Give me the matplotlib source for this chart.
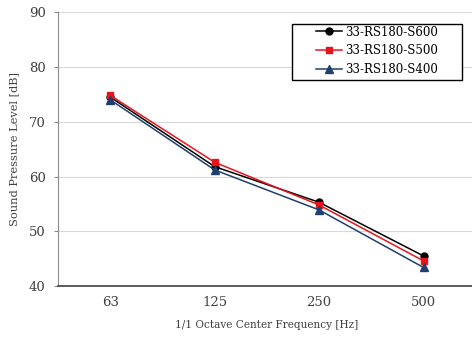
import matplotlib
matplotlib.use("Agg")
import matplotlib.pyplot as plt
from matplotlib.patches import Rectangle

categories = ["63", "125", "250", "500"]
s600 = [74.5, 61.8, 55.3, 45.5]
s500 = [74.8, 62.6, 54.8, 44.6]
s400 = [74.0, 61.2, 53.9, 43.4]
series_names = ["33-RS180-S600", "33-RS180-S500", "33-RS180-S400"]

plt.rcParams['font.family'] = ['DejaVu Serif']

W, H = 472, 337
fig = plt.figure(figsize=(W / 100, H / 100), dpi=100)
ax = fig.add_axes([0.123, 0.151, 0.885, 0.813])

x = list(range(len(categories)))
ax.plot(x, s600, color='black', marker='o', markersize=5, linewidth=1.1, label=series_names[0], zorder=3)
ax.plot(x, s500, color='#e8141c', marker='s', markersize=5, linewidth=1.1, label=series_names[1], zorder=3)
ax.plot(x, s400, color='#1f3f6e', marker='^', markersize=5.5, linewidth=1.1, label=series_names[2], zorder=3)

ax.set_xlim(-0.5, 3.5)
ax.set_ylim(40, 90)
ax.set_yticks([40, 50, 60, 70, 80, 90])
ax.set_xticks(x)
ax.set_xticklabels(categories)
ax.grid(axis='y', color='#d9d9d9', linewidth=0.8)
ax.set_axisbelow(True)

for s in ['top', 'right']:
    ax.spines[s].set_visible(False)
ax.spines['left'].set_color('#8c8c8c')
ax.spines['bottom'].set_color('#404040')
ax.spines['bottom'].set_linewidth(1.2)
ax.tick_params(axis='y', length=3, color='#8c8c8c', labelsize=9.5, labelcolor='#404040', pad=6)
ax.tick_params(axis='x', length=0, labelsize=9.5, labelcolor='#404040', pad=7)

ax.set_ylabel("Sound Pressure Level [dB]", fontsize=8.2, color='#404040', labelpad=7)
ax.set_xlabel("1/1 Octave Center Frequency [Hz]", fontsize=7.6, color='#404040', labelpad=8)

# legend box (Excel style, content centered in a wide frame)
box = Rectangle((292 / W, 1 - 80 / H), 170 / W, 56 / H, transform=fig.transFigure,
                facecolor='white', edgecolor='black', linewidth=1.0, zorder=4)
fig.patches.append(box)
handles, labels = ax.get_legend_handles_labels()
leg = fig.legend(handles, labels, loc='center', bbox_to_anchor=(377 / W, 1 - 51 / H),
                 fontsize=8.5, frameon=False, borderpad=0.0,
                 handlelength=2.2, labelspacing=0.5, handletextpad=0.3)
leg.set_zorder(5)

fig.savefig("out.png", dpi=100)
